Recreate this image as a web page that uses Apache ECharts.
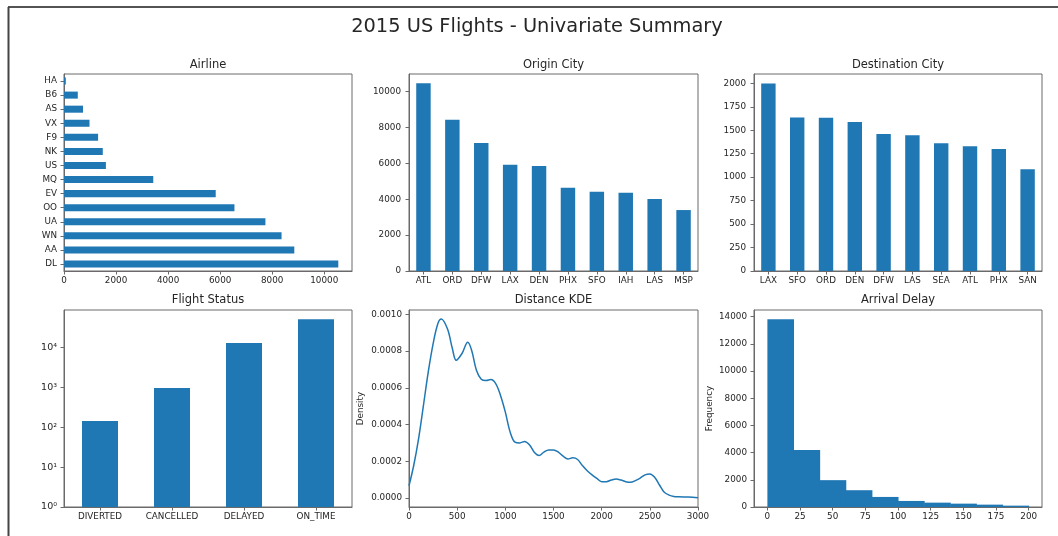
<!DOCTYPE html>
<html>
<head>
<meta charset="utf-8">
<script src="https://cdn.jsdelivr.net/npm/echarts@6/dist/echarts.min.js"></script>
<style>
  html, body { margin: 0; padding: 0; background: #ffffff; }
  #chart { width: 1058px; height: 536px; }
</style>
</head>
<body>
<div id="chart"></div>
<script>
// ---- data ----
const airlines = ['DL', 'AA', 'WN', 'UA', 'OO', 'EV', 'MQ', 'US', 'NK', 'F9', 'VX', 'AS', 'B6', 'HA'];
const airlineCounts = [10540, 8850, 8360, 7740, 6550, 5830, 3430, 1610, 1490, 1310, 980, 730, 530, 70];

const originCities = ['ATL', 'ORD', 'DFW', 'LAX', 'DEN', 'PHX', 'SFO', 'IAH', 'LAS', 'MSP'];
const originCounts = [10470, 8440, 7140, 5930, 5860, 4650, 4420, 4370, 4020, 3400];

const destCities = ['LAX', 'SFO', 'ORD', 'DEN', 'DFW', 'LAS', 'SEA', 'ATL', 'PHX', 'SAN'];
const destCounts = [1998, 1635, 1632, 1588, 1460, 1446, 1362, 1330, 1300, 1084];

const statusNames = ['DIVERTED', 'CANCELLED', 'DELAYED', 'ON_TIME'];
const statusCounts = [141, 944, 12670, 49800];

const kdeDistance = [0, 50, 100, 150, 200, 250, 300, 335, 400, 450, 490, 550, 610, 650, 700, 750, 800, 850, 900, 950,
  1000, 1050, 1100, 1150, 1200, 1250, 1300, 1350, 1400, 1450, 1500, 1550, 1600, 1650, 1700, 1750, 1800, 1850, 1900, 1950,
  2000, 2050, 2100, 2150, 2200, 2250, 2300, 2350, 2400, 2450, 2500, 2550, 2600, 2650, 2700, 2750, 2800, 2900, 3000];
const kdeDensity = [0.000067, 0.000180, 0.000325, 0.000505, 0.000687, 0.000840, 0.000950, 0.000975, 0.000920, 0.000814,
  0.000750, 0.000787, 0.000848, 0.000805, 0.000696, 0.000647, 0.000640, 0.000645, 0.000623, 0.000559,
  0.000468, 0.000359, 0.000304, 0.000300, 0.000308, 0.000290, 0.000250, 0.000232, 0.000250, 0.000262,
  0.000262, 0.000250, 0.000228, 0.000213, 0.000219, 0.000210, 0.000177, 0.000149, 0.000126, 0.000107,
  0.000089, 0.000089, 0.000098, 0.000104, 0.000098, 0.000089, 0.000086, 0.000095, 0.000109, 0.000126,
  0.000131, 0.000113, 0.000071, 0.000031, 0.000016, 0.000009, 0.000007, 0.000005, 0.000002];

const delayBinEdges = [0, 20, 40, 60, 80, 100, 120, 140, 160, 180, 200];
const delayCounts = [13810, 4200, 1975, 1235, 740, 445, 320, 247, 173, 99];

// ---- tick labels ----
const airlineTicks = [0, 2000, 4000, 6000, 8000, 10000];
const originTicks = [0, 2000, 4000, 6000, 8000, 10000];
const destTicks = [0, 250, 500, 750, 1000, 1250, 1500, 1750, 2000];
const kdeXTicks = [0, 500, 1000, 1500, 2000, 2500, 3000];
const kdeYTicks = [0, 0.0002, 0.0004, 0.0006, 0.0008, 0.0010];
const delayXTicks = [0, 25, 50, 75, 100, 125, 150, 175, 200];
const delayYTicks = [0, 2000, 4000, 6000, 8000, 10000, 12000, 14000];

// ---- styling ----
const BLUE = '#1f77b4';
const SPINE = '#6a6a6a';
const TXT = '#262626';
const FONT = 'DejaVu Sans';
const TICK_FS = 8.8;

const chart = echarts.init(document.getElementById('chart'), null, { renderer: 'canvas' });

const grids = [
  { left: 64, top: 74, width: 288, height: 197 },
  { left: 409, top: 74, width: 289, height: 197 },
  { left: 754, top: 74, width: 288, height: 197 },
  { left: 64, top: 310, width: 288, height: 197 },
  { left: 409, top: 310, width: 289, height: 197 },
  { left: 754, top: 310, width: 288, height: 197 }
].map(g => Object.assign({ show: true, borderColor: SPINE, borderWidth: 1, backgroundColor: 'transparent', containLabel: false }, g));

function lineStyle() { return { show: true, onZero: false, lineStyle: { color: SPINE, width: 1 } }; }

function valueAxis(gridIndex, min, max, ticks, fmt, margin, extra) {
  return Object.assign({
    type: 'value', gridIndex, min, max,
    splitLine: { show: false },
    axisLine: lineStyle(),
    axisTick: { show: true, length: 3.5, customValues: ticks, lineStyle: { color: SPINE, width: 1 } },
    axisLabel: { customValues: ticks, formatter: fmt || (v => String(v)), color: TXT, fontFamily: FONT, fontSize: TICK_FS, margin: margin }
  }, extra || {});
}

function categoryAxis(gridIndex, data, margin) {
  return {
    type: 'category', gridIndex, data,
    axisLine: lineStyle(),
    axisTick: { show: true, length: 3.5, alignWithLabel: true, lineStyle: { color: SPINE, width: 1 } },
    axisLabel: { color: TXT, fontFamily: FONT, fontSize: TICK_FS, margin: margin, interval: 0 },
    splitLine: { show: false }
  };
}

const supDigits = ['\u2070', '\u00b9', '\u00b2', '\u00b3', '\u2074', '\u2075'];

const xAxes = [
  valueAxis(0, 0, 11067, airlineTicks, null, 5),
  categoryAxis(1, originCities, 5),
  categoryAxis(2, destCities, 5),
  categoryAxis(3, statusNames, 5),
  valueAxis(4, 0, 3000, kdeXTicks, null, 5),
  valueAxis(5, -10.25, 210.2, delayXTicks, null, 5)
];

const yAxes = [
  categoryAxis(0, airlines, 7),
  valueAxis(1, 0, 10990, originTicks, null, 8),
  valueAxis(2, 0, 2099.5, destTicks, null, 8),
  {
    type: 'log', logBase: 10, gridIndex: 3, min: 1, max: 85000, interval: 1,
    splitLine: { show: false },
    axisLine: lineStyle(),
    axisTick: { show: true, length: 3.5, lineStyle: { color: SPINE, width: 1 } },
    axisLabel: {
      color: TXT, fontFamily: FONT, fontSize: 9.5, margin: 7, showMaxLabel: false,
      formatter: v => {
        const e = Math.log10(v);
        const r = Math.round(e);
        return Math.abs(e - r) < 1e-6 ? '10' + supDigits[r] : '';
      }
    }
  },
  valueAxis(4, -0.0000488, 0.001024, kdeYTicks, v => v.toFixed(4), 7, {
    name: 'Density', nameLocation: 'middle', nameGap: 44,
    nameTextStyle: { color: TXT, fontFamily: FONT, fontSize: TICK_FS }
  }),
  valueAxis(5, 0, 14490, delayYTicks, null, 7, {
    name: 'Frequency', nameLocation: 'middle', nameGap: 40,
    nameTextStyle: { color: TXT, fontFamily: FONT, fontSize: TICK_FS }
  })
];

const series = [
  { type: 'bar', xAxisIndex: 0, yAxisIndex: 0, data: airlineCounts, barWidth: '50%', itemStyle: { color: BLUE }, silent: true },
  { type: 'bar', xAxisIndex: 1, yAxisIndex: 1, data: originCounts, barWidth: '50%', itemStyle: { color: BLUE }, silent: true },
  { type: 'bar', xAxisIndex: 2, yAxisIndex: 2, data: destCounts, barWidth: '50%', itemStyle: { color: BLUE }, silent: true },
  { type: 'bar', xAxisIndex: 3, yAxisIndex: 3, data: statusCounts, barWidth: '50%', itemStyle: { color: BLUE }, silent: true },
  {
    type: 'line', xAxisIndex: 4, yAxisIndex: 4,
    data: kdeDistance.map((d, i) => [d, kdeDensity[i]]),
    smooth: 0.35, showSymbol: false, silent: true,
    lineStyle: { color: BLUE, width: 1.5 }
  },
  {
    type: 'custom', xAxisIndex: 5, yAxisIndex: 5, silent: true,
    data: delayCounts.map((c, i) => [delayBinEdges[i], delayBinEdges[i + 1], c]),
    encode: { x: [0, 1], y: 2 },
    renderItem: (params, api) => {
      const p0 = api.coord([api.value(0), api.value(2)]);
      const p1 = api.coord([api.value(1), 0]);
      return {
        type: 'rect',
        shape: { x: p0[0], y: p0[1], width: p1[0] - p0[0] + 0.5, height: p1[1] - p0[1] },
        style: { fill: BLUE }
      };
    }
  }
];

function titleText(text, x, y, size) {
  return {
    type: 'text', x, y, silent: true,
    style: { text, textAlign: 'center', textVerticalAlign: 'middle', fill: TXT, font: size + 'px "' + FONT + '"' }
  };
}

const graphics = [
  // notebook output frame
  { type: 'line', silent: true, shape: { x1: 8, y1: 7, x2: 1058, y2: 7 }, style: { stroke: '#1a1a1a', lineWidth: 1.5 } },
  { type: 'line', silent: true, shape: { x1: 8.5, y1: 7, x2: 8.5, y2: 536 }, style: { stroke: '#444444', lineWidth: 2 } },
  titleText('2015 US Flights - Univariate Summary', 537, 27, 19.4),
  titleText('Airline', 208, 65, 11.5),
  titleText('Origin City', 553.5, 65, 11.5),
  titleText('Destination City', 898, 65, 11.5),
  titleText('Flight Status', 208, 300, 11.5),
  titleText('Distance KDE', 553.5, 300, 11.5),
  titleText('Arrival Delay', 898, 300, 11.5)
];

chart.setOption({
  animation: false,
  backgroundColor: '#ffffff',
  textStyle: { fontFamily: FONT },
  grid: grids,
  xAxis: xAxes,
  yAxis: yAxes,
  series: series,
  graphic: graphics
});
</script>
</body>
</html>
